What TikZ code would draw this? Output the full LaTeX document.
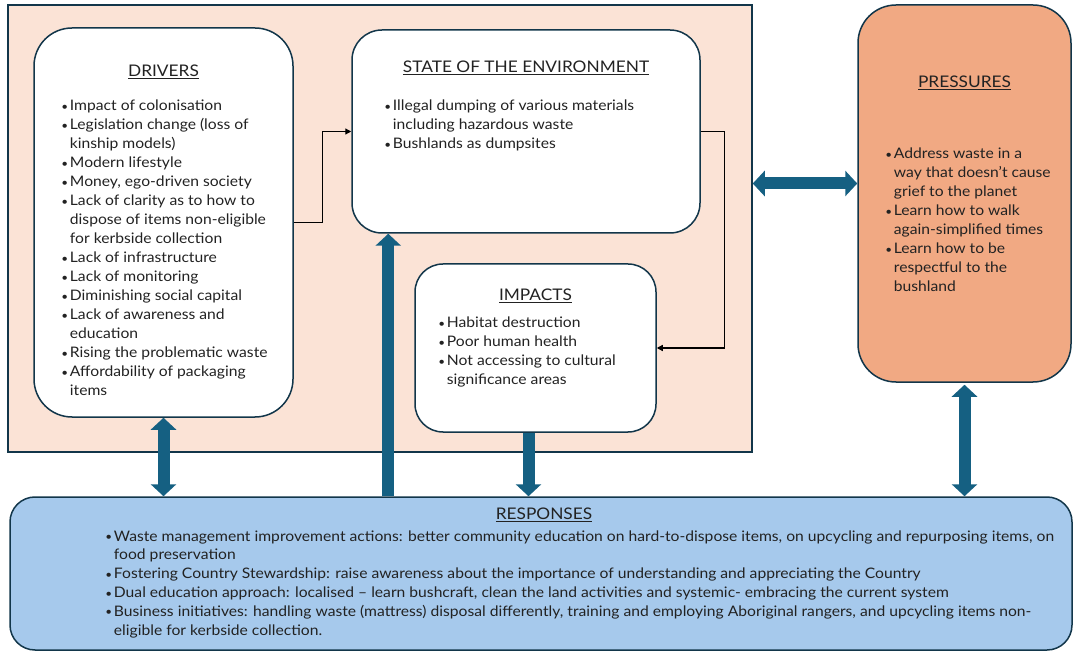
\documentclass[tikz,border=0pt]{standalone}
\usepackage{fontspec}
\setmainfont{Lato}[FakeStretch=1.08]
\usetikzlibrary{positioning,arrows.meta,calc}

\definecolor{framefill}{HTML}{FBE3D6}
\definecolor{pressfill}{HTML}{F1A983}
\definecolor{respfill}{HTML}{A6C9EC}
\definecolor{edge}{HTML}{12364A}
\definecolor{blockblue}{HTML}{156082}
\definecolor{ink}{HTML}{222222}

\newcommand{\bitem}{\makebox[7.5pt][l]{\hspace*{-1pt}\raisebox{0.5pt}{\scalebox{0.75}{\textbullet}}}}
\newcommand{\bcont}{\hspace*{7.5pt}}

\begin{document}
\begin{tikzpicture}[x=1pt,y=-1pt]
\tikzset{
    panel/.style={rectangle, draw=edge, line width=1.5pt, fill=white, rounded corners=30pt, inner sep=0pt},
    heading/.style={font=\fontsize{16}{19}\selectfont, text=ink, inner sep=0pt, anchor=base},
    items/.style={font=\fontsize{14.5}{19}\selectfont, text=ink, align=left, inner sep=0pt, anchor=north west},
    link/.style={line width=1.2pt, -{Triangle[length=6pt,width=6pt]}},
    bigone/.style={line width=12pt, draw=blockblue, -{Triangle[length=12pt,width=25pt]}},
    bigboth/.style={line width=12pt, draw=blockblue, {Triangle[length=12pt,width=25pt]}-{Triangle[length=12pt,width=25pt]}}
}
\useasboundingbox (0,0) rectangle (1074,652);
\fill[white] (0,0) rectangle (1074,652);

% frame and panels
\node[rectangle, draw=edge, line width=1.5pt, fill=framefill, minimum width=744pt, minimum height=447pt] (frame) at (380,228.5) {};
\node[panel, rounded corners=38pt, minimum width=259pt, minimum height=389pt] (drivers) at (163.5,222.5) {};
\node[panel, minimum width=348pt, minimum height=203pt] (state) at (526,131.5) {};
\node[panel, rounded corners=28pt, minimum width=241pt, minimum height=168pt] (impacts) at (535.5,348) {};
\node[panel, fill=pressfill, rounded corners=38pt, minimum width=213pt, minimum height=377pt] (pressures) at (964.5,193.5) {};
\node[panel, fill=respfill, rounded corners=25pt, minimum width=1062pt, minimum height=153pt] (responses) at (541,573.5) {};

% headings
\node[heading] (driverstitle) at ([yshift=-49pt]drivers.north) {\underline{DRIVERS}};
\node[heading] (statetitle) at ([yshift=-43pt]state.north) {\underline{STATE OF THE ENVIRONMENT}};
\node[heading] (impactstitle) at ([yshift=-37pt]impacts.north) {\underline{IMPACTS}};
\node[heading] (pressurestitle) at ([yshift=-83pt]pressures.north) {\underline{PRESSURES}};
\node[heading] (responsestitle) at ([xshift=3pt,yshift=-23pt]responses.north) {\underline{RESPONSES}};

% lists
\node[items] (driverlist) at ([xshift=29pt,yshift=-72.5pt]drivers.north west) {%
\bitem Impact of colonisation\\
\bitem Legislation change (loss of\\
\bcont kinship models)\\
\bitem Modern lifestyle\\
\bitem Money, ego-driven society\\
\bitem Lack of clarity as to how to\\
\bcont dispose of items non-eligible\\
\bcont for kerbside collection\\
\bitem Lack of infrastructure\\
\bitem Lack of monitoring\\
\bitem Diminishing social capital\\
\bitem Lack of awareness and\\
\bcont education\\
\bitem Rising the problematic waste\\
\bitem Affordability of packaging\\
\bcont items};
\node[items] (statelist) at ([xshift=34pt,yshift=-70.5pt]state.north west) {%
\bitem Illegal dumping of various materials\\
\bcont including hazardous waste\\
\bitem Bushlands as dumpsites};
\node[items] (impactlist) at ([xshift=25pt,yshift=-53.5pt]impacts.north west) {%
\bitem Habitat destruction\\
\bitem Poor human health\\
\bitem Not accessing to cultural\\
\bcont significance areas};
\node[items] (pressurelist) at ([xshift=29pt,yshift=-143.5pt]pressures.north west) {%
\bitem Address waste in a\\
\bcont way that doesn't cause\\
\bcont grief to the planet\\
\bitem Learn how to walk\\
\bcont again-simplified times\\
\bitem Learn how to be\\
\bcont respectful to the\\
\bcont bushland};
\node[items, font=\fontsize{14.5}{18.8}\selectfont] (responselist) at ([xshift=97pt,yshift=-34pt]responses.north west) {%
\bitem Waste management improvement actions: better community education on hard-to-dispose items, on upcycling and repurposing items, on\\
\bcont food preservation\\
\bitem Fostering Country Stewardship: raise awareness about the importance of understanding and appreciating the Country\\
\bitem Dual education approach: localised -- learn bushcraft, clean the land activities and systemic- embracing the current system\\
\bitem Business initiatives: handling waste (mattress) disposal differently, training and employing Aboriginal rangers, and upcycling items non-\\
\bcont eligible for kerbside collection.};

% thin links
\draw[link] (drivers.east) -- ++(29,0) |- (state.west);
\draw[link] (state.east) -- ++(24,0) |- (impacts.east);

% block arrows
\coordinate (upfoot) at ([xshift=37pt]state.south west);
\coordinate (sidefoot) at ([yshift=10pt]pressures.west);
\draw[bigone] (upfoot |- responses.north) -- (upfoot);
\draw[bigone] ([xshift=-7pt]impacts.south) -- ([xshift=-7pt]impacts.south |- responses.north);
\draw[bigboth] (drivers.south) -- (drivers.south |- responses.north);
\draw[bigboth] ([yshift=-2pt]pressures.south) -- (pressures.south |- responses.north);
\draw[bigboth] (sidefoot -| frame.east) -- (sidefoot);
\end{tikzpicture}
\end{document}
